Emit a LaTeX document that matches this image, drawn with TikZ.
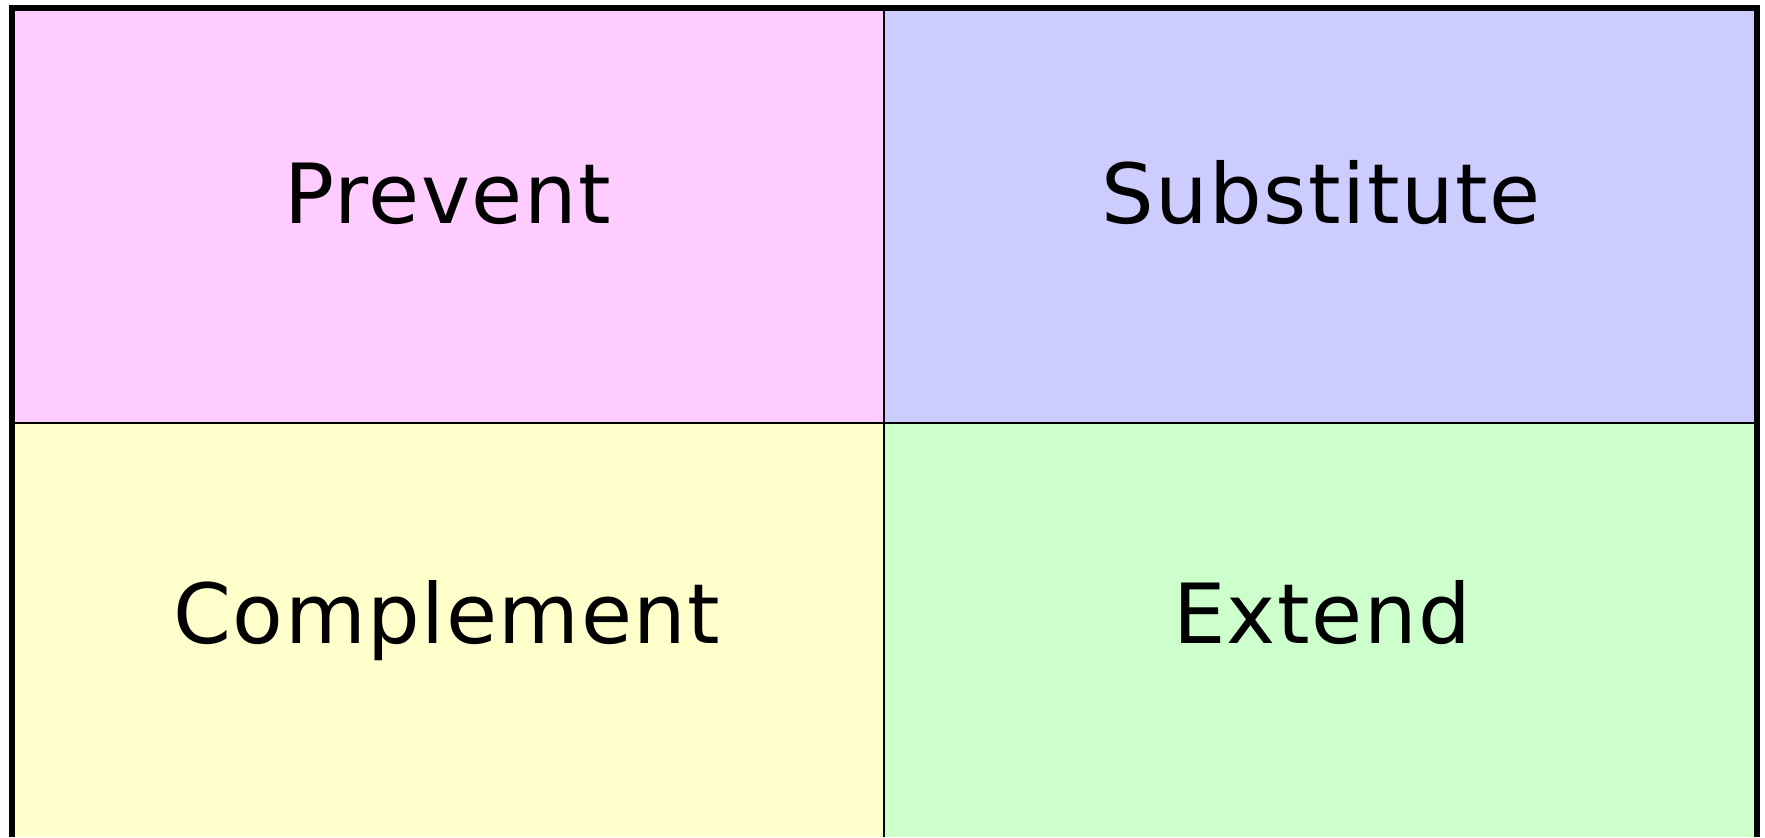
\documentclass[tikz,border=0pt]{standalone}
\usepackage{fontspec}
\setmainfont{DejaVu Sans}
\newfontfamily\lblfont[LetterSpace=1.8]{DejaVu Sans}
\definecolor{cpink}{HTML}{FFCCFF}
\definecolor{cblue}{HTML}{CCCCFF}
\definecolor{cyellow}{HTML}{FFFFCC}
\definecolor{cgreen}{HTML}{CCFFCC}
\tikzset{
  lbl/.style={anchor=base, inner sep=0pt, font=\lblfont\fontsize{41.5}{41.5}\selectfont},
  outer/.style={line width=3pt, line cap=butt, line join=miter},
  inner/.style={line width=1.3pt},
}
\begin{document}
\begin{tikzpicture}[x=0.5pt,y=-0.5pt]
\useasboundingbox (0,0) rectangle (1765,837);
\coordinate (tl) at (12,8);
\coordinate (tm) at (884,8);
\coordinate (tr) at (1757,8);
\coordinate (ml) at (12,423);
\coordinate (mm) at (884,423);
\coordinate (mr) at (1757,423);
\coordinate (bl) at (12,837);
\coordinate (bm) at (884,837);
\coordinate (br) at (1757,837);
\fill[cpink] (tl) rectangle (mm);
\fill[cblue] (tm) rectangle (mr);
\fill[cyellow] (ml) rectangle (bm);
\fill[cgreen] (mm) rectangle (br);
\draw[inner] (tm) -- (bm);
\draw[inner] (ml) -- (mr);
\draw[outer] (bl) -- (tl) -- (tr) -- (br);
\node[lbl] (prevent) at (448,223) {Prevent};
\node[lbl] (substitute) at (1321,223) {Substitute};
\node[lbl] (complement) at (447,643) {Complement};
\node[lbl] (extend) at (1322,643) {Extend};
\end{tikzpicture}
\end{document}
